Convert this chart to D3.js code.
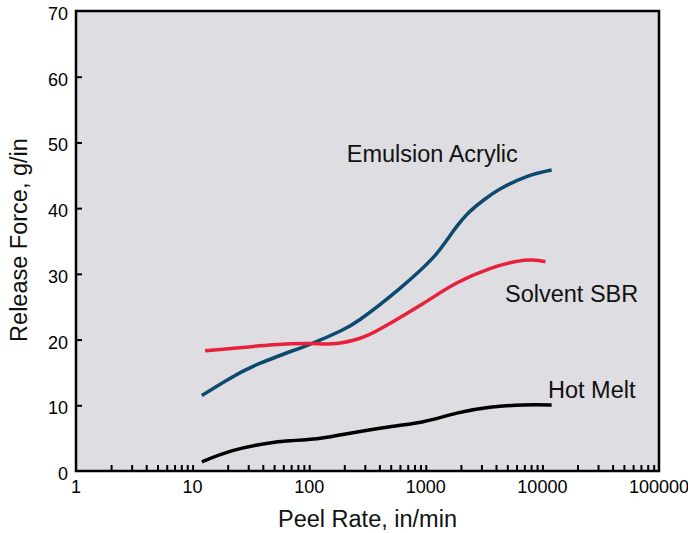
<!DOCTYPE html>
<html>
<head>
<meta charset="utf-8">
<script src="https://cdn.jsdelivr.net/npm/d3@7"></script>
<style>
	body { margin: 0; background: #fff; }
	svg { display: block; font-family: "Liberation Sans", Arial, Helvetica, sans-serif; }
</style>
</head>
<body>
<svg width="688" height="533"></svg>
<script>
// peel rate (in/min) and release force (g/in) per adhesive
const acrylicRate  = [12, 20, 38, 105, 185, 275, 600, 1160, 1610, 2240, 3120, 4330, 7330, 12000];
const acrylicForce = [11.5, 13.9, 16.4, 19.4, 21.3, 23.1, 27.8, 32.5, 35.8, 39.0, 41.2, 42.9, 44.8, 45.8];

const sbrRate  = [12.8, 49, 105, 172, 273, 405, 950, 1840, 3550, 6020, 8340, 10600];
const sbrForce = [18.3, 19.2, 19.4, 19.4, 20.2, 21.6, 25.5, 28.6, 30.8, 31.9, 32.1, 31.85];

const hotMeltRate  = [12, 22, 43, 68, 116, 200, 493, 950, 1840, 3550, 6860, 12000];
const hotMeltForce = [1.4, 3.1, 4.2, 4.6, 4.9, 5.6, 6.75, 7.5, 8.8, 9.7, 10.05, 10.05];

const xTickLabels = [1, 10, 100, 1000, 10000, 100000];
const yTickLabels = [0, 10, 20, 30, 40, 50, 60, 70];

const series = [
	{ naam: "Emulsion Acrylic", rate: acrylicRate, force: acrylicForce, kleur: "#0d4a6f", label: [210, 47.0] },
	{ naam: "Solvent SBR", rate: sbrRate, force: sbrForce, kleur: "#e8213b", label: [4780, 25.7] },
	{ naam: "Hot Melt", rate: hotMeltRate, force: hotMeltForce, kleur: "#000000", label: [11170, 11.1] }
];

const svg = d3.select("svg");
const margin = { top: 11, right: 29, bottom: 62, left: 76 };
const width = 688 - margin.left - margin.right;
const height = 533 - margin.top - margin.bottom;

const x = d3.scaleLog().domain([1, 100000]).range([0, width]);
const y = d3.scaleLinear().domain([0, 70]).range([height, 0]);

const g = svg.append("g").attr("transform", `translate(${margin.left},${margin.top})`);

g.append("rect")
	.attr("width", width)
	.attr("height", height)
	.attr("fill", "#dddde2");

// minor + major ticks on the log axis, pointing inward
const xTicks = [];
for (let dec = 1; dec < 100000; dec *= 10)
	for (let m = 1; m < 10; m++)
		xTicks.push(dec * m);

const gX = g.append("g")
	.attr("class", "axis axis--x")
	.attr("transform", `translate(0,${height})`)
	.call(d3.axisTop(x).tickValues(xTicks.filter(v => v > 1)).tickSize(6).tickFormat(""));
gX.select(".domain").remove();
gX.selectAll("line").attr("stroke", "#000").attr("stroke-width", 2);

g.append("g")
	.selectAll("text")
	.data(xTickLabels)
	.join("text")
	.attr("x", d => x(d))
	.attr("y", height + 22)
	.attr("text-anchor", "middle")
	.attr("font-size", 18)
	.text(d => d);

const gY = g.append("g")
	.attr("class", "axis axis--y")
	.call(d3.axisRight(y).tickValues(yTickLabels.filter(v => v > 0 && v < 70)).tickSize(6).tickFormat(""));
gY.select(".domain").remove();
gY.selectAll("line").attr("stroke", "#000").attr("stroke-width", 2);

g.append("g")
	.selectAll("text")
	.data(yTickLabels)
	.join("text")
	.attr("x", -8)
	.attr("y", d => y(d) + 9)
	.attr("text-anchor", "end")
	.attr("font-size", 18)
	.text(d => d);

g.append("rect")
	.attr("width", width)
	.attr("height", height)
	.attr("fill", "none")
	.attr("stroke", "#000")
	.attr("stroke-width", 2.5);

const line = d3.line()
	.x(d => x(d[0]))
	.y(d => y(d[1]))
	.curve(d3.curveNatural);

for (const s of series) {
	const punten = s.rate.map((r, i) => [r, s.force[i]]);
	g.append("path")
		.datum(punten)
		.attr("d", line)
		.attr("fill", "none")
		.attr("stroke", s.kleur)
		.attr("stroke-width", 3.5)
		.attr("stroke-linecap", "butt");

	g.append("text")
		.attr("x", x(s.label[0]))
		.attr("y", y(s.label[1]))
		.attr("font-size", 23.5)
		.attr("fill", "#111")
		.text(s.naam);
}

svg.append("text")
	.attr("x", margin.left + width / 2)
	.attr("y", 527)
	.attr("text-anchor", "middle")
	.attr("font-size", 23.5)
	.attr("fill", "#111")
	.text("Peel Rate, in/min");

svg.append("text")
	.attr("transform", "rotate(-90)")
	.attr("x", -240)
	.attr("y", 27)
	.attr("text-anchor", "middle")
	.attr("font-size", 23.5)
	.attr("fill", "#111")
	.text("Release Force, g/in");
</script>
</body>
</html>
